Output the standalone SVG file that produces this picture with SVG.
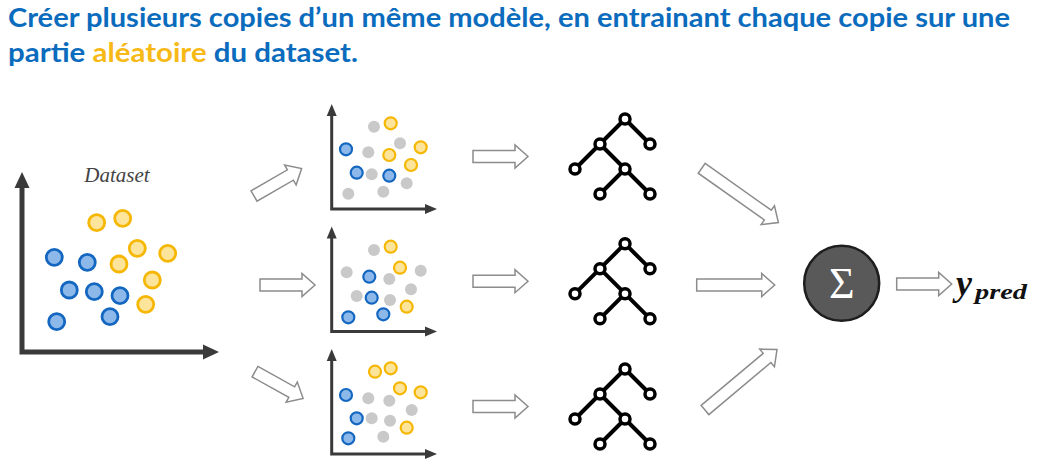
<svg xmlns="http://www.w3.org/2000/svg" xmlns:xlink="http://www.w3.org/1999/xlink" width="1039" height="473" viewBox="0 0 1039 473">
<style>
.title{font-family:Lato,"Open Sans","Liberation Sans",sans-serif;font-weight:bold;font-size:26px;fill:#0b6cbd}
.hl{fill:#f7b916}
.axis{fill:none;stroke:#3a3a3a;stroke-linejoin:miter}
.axhead{fill:#3a3a3a}
.bdot{fill:#8db9ea;stroke:#1467c1}
.ydot{fill:#fde49b;stroke:#f6b703}
.gdot{fill:#c9c9c9}
.big circle{stroke-width:2.8}
.small circle{stroke-width:2.2}
.harrow{fill:#fff;stroke:#8c8c8c;stroke-width:1.5;stroke-linejoin:miter}
.tedge{stroke:#000;stroke-width:4;stroke-linecap:round}
.tnode{fill:#fff;stroke:#000;stroke-width:3.5}
</style>
<defs>
<path id="arrS" d="M0,-6 H42 V-11.5 L55,0 L42,11.5 V6 H0 Z"/>
<path id="arrM" d="M0,-6 H65 V-11.5 L78,0 L65,11.5 V6 H0 Z"/>
<path id="arrL" d="M0,-6 H81 V-11.5 L94,0 L81,11.5 V6 H0 Z"/>
<g id="tree">
<line class="tedge" x1="625" y1="119" x2="600" y2="144"/>
<line class="tedge" x1="625" y1="119" x2="650" y2="144"/>
<line class="tedge" x1="600" y1="144" x2="575" y2="169"/>
<line class="tedge" x1="600" y1="144" x2="625" y2="169"/>
<line class="tedge" x1="625" y1="169" x2="600" y2="194"/>
<line class="tedge" x1="625" y1="169" x2="650" y2="194"/>
<circle class="tnode" cx="625" cy="119" r="5"/>
<circle class="tnode" cx="600" cy="144" r="5"/>
<circle class="tnode" cx="650" cy="144" r="5"/>
<circle class="tnode" cx="575" cy="169" r="5"/>
<circle class="tnode" cx="625" cy="169" r="5"/>
<circle class="tnode" cx="600" cy="194" r="5"/>
<circle class="tnode" cx="650" cy="194" r="5"/>
</g>
<g id="smallAxes">
<path class="axis" stroke-width="3" d="M331.7,115 V209 H426"/>
<polygon class="axhead" points="331.7,104 326.7,116 336.7,116"/>
<polygon class="axhead" points="437,209 425,204 425,214"/>
</g>
</defs>

<g id="title">
<text class="title" x="8" y="27" textLength="1002" lengthAdjust="spacingAndGlyphs">Créer plusieurs copies d’un même modèle, en entrainant chaque copie sur une</text>
<text class="title" x="8" y="62" textLength="350" lengthAdjust="spacingAndGlyphs">partie <tspan class="hl">aléatoire</tspan> du dataset.</text>
</g>

<g id="dataset" class="big">
<text x="117" y="182" text-anchor="middle" font-family="'Liberation Serif',serif" font-style="italic" font-size="21" fill="#444">Dataset</text>
<path class="axis" stroke-width="5" d="M22,186 V352 H205"/>
<polygon class="axhead" points="22,172 14.5,188 29.5,188"/>
<polygon class="axhead" points="219,352 203,344.5 203,359.5"/>
<circle class="ydot" cx="96.7" cy="222.7" r="8"/>
<circle class="ydot" cx="122.7" cy="218.3" r="8"/>
<circle class="ydot" cx="137.3" cy="248.3" r="8"/>
<circle class="ydot" cx="167.7" cy="253.3" r="8"/>
<circle class="ydot" cx="119" cy="264" r="8"/>
<circle class="ydot" cx="152.3" cy="280" r="8"/>
<circle class="ydot" cx="145.7" cy="304.3" r="8"/>
<circle class="bdot" cx="54.3" cy="257.3" r="8"/>
<circle class="bdot" cx="87.3" cy="262.3" r="8"/>
<circle class="bdot" cx="69.3" cy="290" r="8"/>
<circle class="bdot" cx="94.3" cy="291.7" r="8"/>
<circle class="bdot" cx="120" cy="295.7" r="8"/>
<circle class="bdot" cx="110" cy="316.7" r="8"/>
<circle class="bdot" cx="56.7" cy="321.7" r="8"/>
</g>

<g id="sample1" class="small">
<use xlink:href="#smallAxes" href="#smallAxes"/>
<circle class="gdot" cx="374" cy="126.7" r="6"/>
<circle class="gdot" cx="400" cy="143.3" r="6"/>
<circle class="gdot" cx="368.3" cy="152.3" r="6"/>
<circle class="gdot" cx="371.7" cy="174.3" r="6"/>
<circle class="gdot" cx="406.7" cy="183.3" r="6"/>
<circle class="gdot" cx="383.3" cy="191.7" r="6"/>
<circle class="gdot" cx="348.3" cy="193.7" r="6"/>
<circle class="ydot" cx="390.7" cy="123.3" r="6"/>
<circle class="ydot" cx="420.7" cy="147.3" r="6"/>
<circle class="ydot" cx="389.3" cy="155" r="6"/>
<circle class="ydot" cx="411" cy="165" r="6"/>
<circle class="bdot" cx="346" cy="149.3" r="6"/>
<circle class="bdot" cx="356.7" cy="172.7" r="6"/>
<circle class="bdot" cx="389.3" cy="175.7" r="6"/>
</g>

<g id="sample2" class="small">
<use xlink:href="#smallAxes" href="#smallAxes" transform="translate(0,122.5)"/>
<circle class="gdot" cx="374" cy="250" r="6"/>
<circle class="gdot" cx="346.7" cy="272.3" r="6"/>
<circle class="gdot" cx="389.3" cy="279" r="6"/>
<circle class="gdot" cx="420.7" cy="270.7" r="6"/>
<circle class="gdot" cx="411" cy="289.3" r="6"/>
<circle class="gdot" cx="356.7" cy="296" r="6"/>
<circle class="gdot" cx="390" cy="300" r="6"/>
<circle class="ydot" cx="390.7" cy="246.7" r="6"/>
<circle class="ydot" cx="400" cy="267.7" r="6"/>
<circle class="ydot" cx="406.7" cy="306.7" r="6"/>
<circle class="bdot" cx="369.3" cy="276.7" r="6"/>
<circle class="bdot" cx="371.7" cy="297.7" r="6"/>
<circle class="bdot" cx="348.3" cy="317.3" r="6"/>
<circle class="bdot" cx="383.3" cy="314.3" r="6"/>
</g>

<g id="sample3" class="small">
<use xlink:href="#smallAxes" href="#smallAxes" transform="translate(0,245)"/>
<circle class="gdot" cx="368.3" cy="398.3" r="6"/>
<circle class="gdot" cx="389.3" cy="400.7" r="6"/>
<circle class="gdot" cx="411.7" cy="410" r="6"/>
<circle class="gdot" cx="371.7" cy="418.3" r="6"/>
<circle class="gdot" cx="390" cy="420.7" r="6"/>
<circle class="gdot" cx="383.3" cy="436.7" r="6"/>
<circle class="ydot" cx="375" cy="371.7" r="6"/>
<circle class="ydot" cx="390.7" cy="368.3" r="6"/>
<circle class="ydot" cx="400" cy="388.3" r="6"/>
<circle class="ydot" cx="420.7" cy="392.3" r="6"/>
<circle class="ydot" cx="406.7" cy="427.7" r="6"/>
<circle class="bdot" cx="346" cy="395" r="6"/>
<circle class="bdot" cx="356.7" cy="418.3" r="6"/>
<circle class="bdot" cx="348.3" cy="438.3" r="6"/>
</g>

<g id="tree1"><use xlink:href="#tree" href="#tree"/></g>
<g id="tree2"><use xlink:href="#tree" href="#tree" transform="translate(0,124.7)"/></g>
<g id="tree3"><use xlink:href="#tree" href="#tree" transform="translate(0,250)"/></g>

<g id="sum">
<circle cx="841.7" cy="283.3" r="37.5" fill="#595959" stroke="#1e1e1e" stroke-width="2.5"/>
<text x="841.7" y="298" text-anchor="middle" font-family="'Liberation Serif','DejaVu Serif',serif" font-size="44" fill="#fff">Σ</text>
</g>

<g id="ypred">
<text font-family="'Liberation Serif','DejaVu Serif',serif" font-weight="bold" font-style="italic" fill="#111"><tspan x="956" y="295" font-size="36">y</tspan><tspan x="975" y="298.5" font-size="22" textLength="52" lengthAdjust="spacingAndGlyphs">pred</tspan></text>
</g>

<g id="connectors" class="harrow">
<use xlink:href="#arrS" href="#arrS" transform="translate(254,196) rotate(-30)"/>
<use xlink:href="#arrS" href="#arrS" transform="translate(260,285)"/>
<use xlink:href="#arrS" href="#arrS" transform="translate(255,371.7) rotate(29)"/>
<use xlink:href="#arrS" href="#arrS" transform="translate(473,156.5)"/>
<use xlink:href="#arrS" href="#arrS" transform="translate(473,281.2)"/>
<use xlink:href="#arrS" href="#arrS" transform="translate(473,406.5)"/>
<use xlink:href="#arrL" href="#arrL" transform="translate(701.7,168.3) rotate(35.3)"/>
<use xlink:href="#arrM" href="#arrM" transform="translate(696.7,285)"/>
<use xlink:href="#arrL" href="#arrL" transform="translate(705,410) rotate(-40)"/>
<use xlink:href="#arrS" href="#arrS" transform="translate(896.7,284)"/>
</g>
</svg>
